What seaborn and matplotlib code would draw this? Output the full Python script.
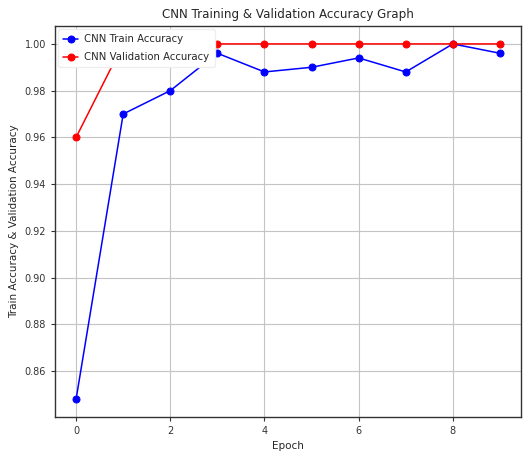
import numpy as np
import pandas as pd
import matplotlib
matplotlib.use('Agg')
import matplotlib.pyplot as plt
import seaborn as sns

epochs = list(range(10))
train_acc = [0.848, 0.970, 0.980, 0.996, 0.988, 0.990, 0.994, 0.988, 1.000, 0.996]
val_acc = [0.960, 1.000, 1.000, 1.000, 1.000, 1.000, 1.000, 1.000, 1.000, 1.000]

sns.set_style('whitegrid', {'axes.edgecolor': '#333333', 'grid.color': '#c4c4c4',
                            'xtick.bottom': True, 'ytick.left': True})
plt.rcParams['font.family'] = ['DejaVu Sans']

df = pd.DataFrame({'epoch': epochs, 'train': train_acc, 'val': val_acc})

fig, ax = plt.subplots(figsize=(5.28, 4.59), dpi=100)
fig.subplots_adjust(left=0.104, right=0.987, bottom=0.092, top=0.943)
sns.lineplot(x='epoch', y='train', data=df, ax=ax, color='blue', marker='o',
             markersize=5, markeredgecolor='blue', linewidth=1.1, label='CNN Train Accuracy')
sns.lineplot(x='epoch', y='val', data=df, ax=ax, color='red', marker='o',
             markersize=5, markeredgecolor='red', linewidth=1.1, label='CNN Validation Accuracy')

ax.set_xticks([0, 2, 4, 6, 8])
ax.set_yticks([0.86, 0.88, 0.90, 0.92, 0.94, 0.96, 0.98, 1.00])
ax.yaxis.set_major_formatter(matplotlib.ticker.FormatStrFormatter('%.2f'))
ax.tick_params(labelsize=7, colors='#333333', length=3)
ax.set_title('CNN Training & Validation Accuracy Graph', fontsize=8.6)
ax.set_xlabel('Epoch', fontsize=7.5)
ax.set_ylabel('Train Accuracy & Validation Accuracy', fontsize=7.5)
for s in ax.spines.values():
    s.set_linewidth(1.0)
leg = ax.legend(loc='upper left', fontsize=7.3, frameon=True, framealpha=1.0,
                handlelength=1.5, borderaxespad=0.3, labelspacing=0.8,
                handletextpad=0.6, borderpad=0.5)
leg.get_frame().set_edgecolor('#eeeeee')
fig.savefig('out.png', dpi=100)
